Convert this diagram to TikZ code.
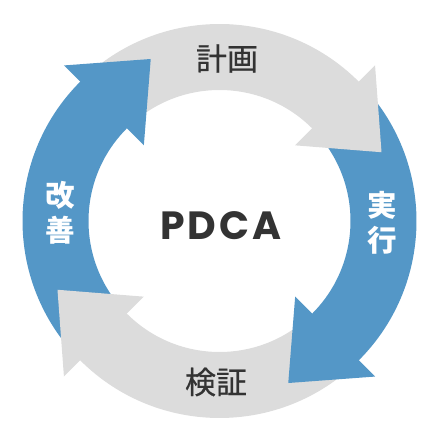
\documentclass[tikz,border=0pt]{standalone}
\usepackage{fontspec}
\setmainfont{Poppins}
\newfontfamily\jpfont{Noto Sans CJK JP}
\newfontfamily\jpmidfont[FakeBold=0.6]{Noto Sans CJK JP}
\definecolor{cycleblue}{HTML}{5497C7}
\definecolor{cyclegray}{HTML}{DCDCDC}
\definecolor{textdark}{HTML}{333333}

\begin{document}
\begin{tikzpicture}[x=0.025cm,y=0.025cm,
  graylabel/.style={text=textdark,font=\jpmidfont\fontsize{22}{26}\selectfont},
  bluelabel/.style={text=white,align=center,font=\jpfont\bfseries\fontsize{21}{25}\selectfont}]
\useasboundingbox (-219.5,-219) rectangle (220.5,221);
% bands
\fill[cyclegray] (133:197) arc[start angle=133,end angle=44,radius=197] -- (44:131) arc[start angle=44,end angle=133,radius=131] -- cycle;
\fill[cycleblue] (43:197) arc[start angle=43,end angle=-46,radius=197] -- (-46:131) arc[start angle=-46,end angle=43,radius=131] -- cycle;
\fill[cyclegray] (-47:197) arc[start angle=-47,end angle=-136,radius=197] -- (-136:131) arc[start angle=-136,end angle=-47,radius=131] -- cycle;
\fill[cycleblue] (223:197) arc[start angle=223,end angle=134,radius=197] -- (134:131) arc[start angle=134,end angle=223,radius=131] -- cycle;
% heads
\fill[cyclegray] (45:220) -- (23:176) -- (45:107) -- cycle;
\fill[cycleblue] (-45:220) -- (-67:176) -- (-45:107) -- cycle;
\fill[cyclegray] (-135:220) -- (-157:176) -- (-135:107) -- cycle;
\fill[cycleblue] (135:220) -- (113:176) -- (135:107) -- cycle;
% labels
\node[graylabel] (plan) at (7.5,162.5) {計画};
\node[bluelabel] (do) at (162.5,-1.5) {実\\行};
\node[graylabel] (check) at (-3.5,-161) {検証};
\node[bluelabel] (act) at (-159.5,8) {改\\善};
\node[text=textdark,font=\bfseries\fontsize{28}{30}\selectfont\addfontfeature{LetterSpace=8}] (pdca) at (1.5,-5) {PDCA};
\end{tikzpicture}
\end{document}
